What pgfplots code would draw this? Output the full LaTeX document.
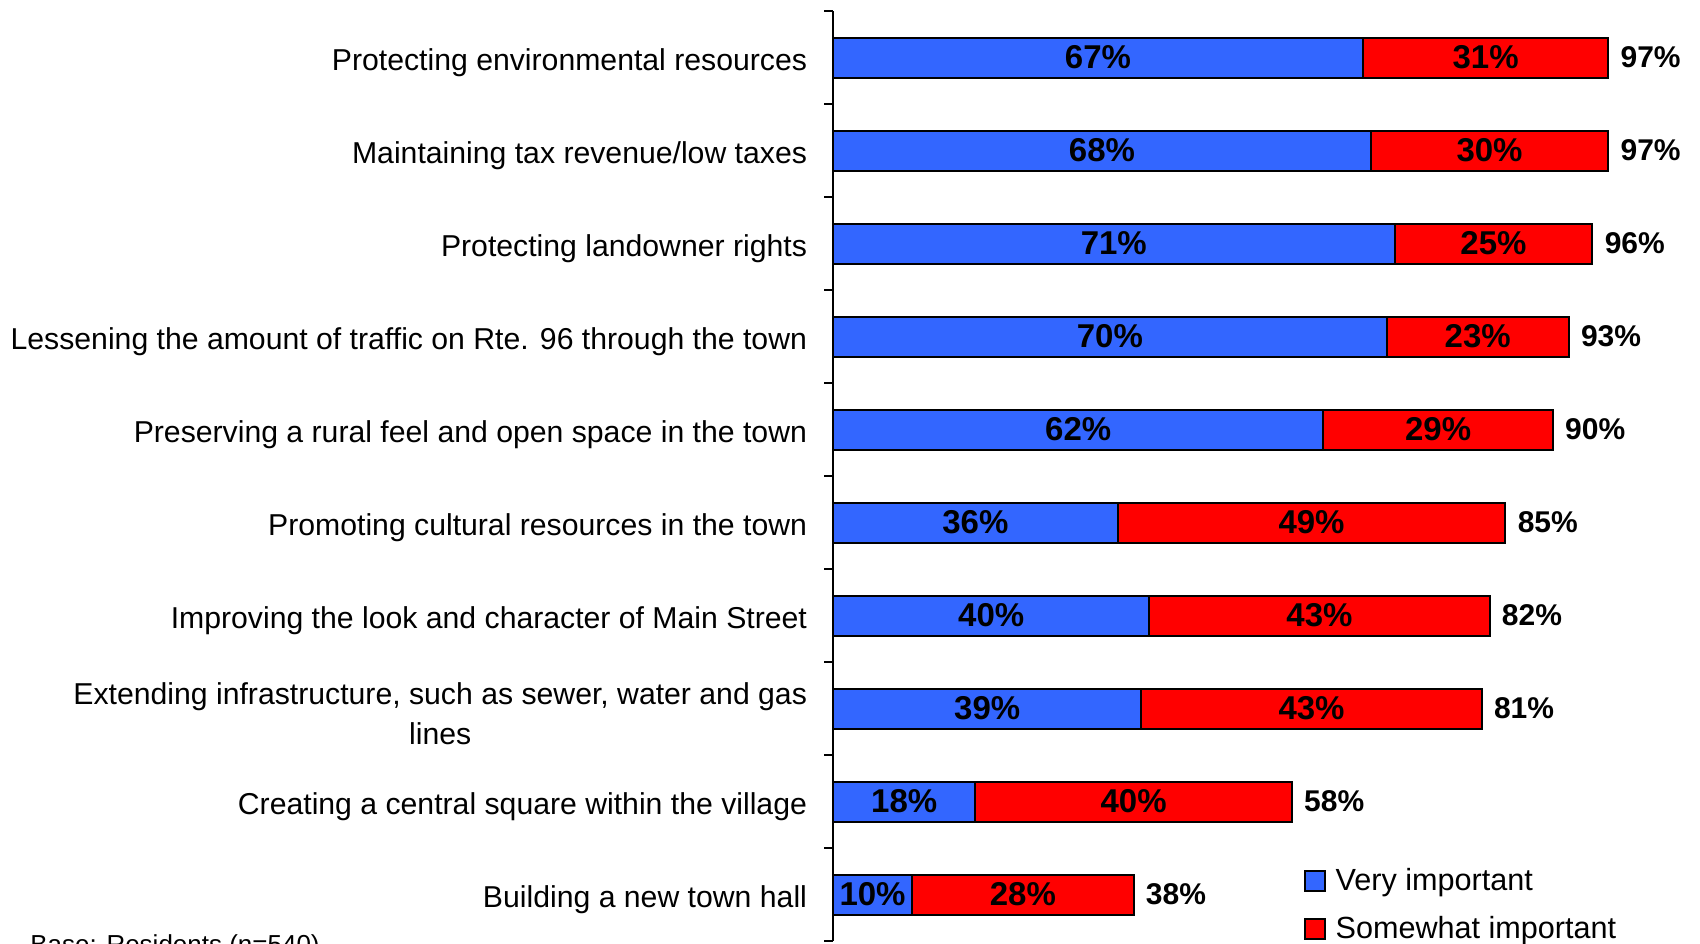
\documentclass[border=0pt]{standalone}
\usepackage{pgfplots}
\usepackage{pgfplotstable}
\pgfplotsset{compat=1.18}
\usepackage{fontspec}
\setmainfont{Liberation Sans}
\definecolor{vblue}{HTML}{3366FF}
\definecolor{sred}{HTML}{FF0000}
\pgfplotstableread{
idx very some tot
0 67 31 97
1 68 30 97
2 71 25 96
3 70 23 93
4 62 29 90
5 36 49 85
6 40 43 82
7 39 43 81
8 18 40 58
9 10 28 38
}\data
\begin{document}
\begin{tikzpicture}
\begin{axis}[
  at={(416.5pt,1pt)}, anchor=south west,
  scale only axis, width=395.5pt, height=465pt,
  xmin=0, xmax=100, ymin=-0.5, ymax=9.5, y dir=reverse,
  xbar stacked, bar width=20pt,
  axis x line=none, axis y line*=left,
  axis line style={line width=1pt},
  ytick={0,...,9},
  yticklabels={Protecting environmental resources,
    Maintaining tax revenue/low taxes,
    Protecting landowner rights,
    Lessening the amount of traffic on Rte. 96 through the town,
    Preserving a rural feel and open space in the town,
    Promoting cultural resources in the town,
    Improving the look and character of Main Street,
    {Extending infrastructure, such as sewer, water and gas\\lines},
    Creating a central square within the village,
    Building a new town hall},
  major tick length=0pt,
  minor ytick={-0.5,0.5,...,9.5},
  minor tick length=4.5pt,
  tick align=outside,
  minor tick style={line width=1pt, black},
  yticklabel style={font=\fontsize{15.1}{20}\selectfont, align=center, inner sep=0pt, xshift=-12.8pt, yshift=-2.5pt},
  /pgf/number format/assume math mode=true,
  clip=false,
  legend style={draw=none, fill=none, at={(axis cs:59.5,9.11)}, anchor=west,
    font=\fontsize{15.3}{18}\selectfont, inner sep=0pt, row sep=7.6pt,
    nodes={inner xsep=4.8pt}},
  legend cell align=left,
  legend image code/.code={\draw[#1, line width=1pt] (0pt,-5pt) rectangle (10pt,5pt);},
]
\addplot[fill=vblue, draw=black, line width=1pt,
  point meta=explicit,
  nodes near coords={\pgfmathprintnumber{\pgfplotspointmeta}\%},
  every node near coord/.append style={anchor=center, inner sep=0pt,
    font=\fontsize{16.5}{16.5}\selectfont\bfseries, text=black}]
  table[x=very, y=idx, meta=very]{\data};
\addplot[fill=sred, draw=black, line width=1pt,
  point meta=explicit,
  nodes near coords={\pgfmathprintnumber{\pgfplotspointmeta}\%},
  every node near coord/.append style={anchor=center, inner sep=0pt,
    font=\fontsize{16.5}{16.5}\selectfont\bfseries, text=black}]
  table[x=some, y=idx, meta=some]{\data};
\addplot[stack plots=false, draw=none, fill=none,
  point meta=explicit,
  visualization depends on={\thisrow{very}+\thisrow{some}\as\rawx},
  nodes near coords={\pgfmathprintnumber{\pgfplotspointmeta}\%},
  every node near coord/.append style={anchor=west, inner sep=0pt, xshift=6pt,
    shift={(axis direction cs:\rawx/2,0)},
    font=\fontsize{15}{15}\selectfont\bfseries, text=black}]
  table[x expr=\thisrow{very}+\thisrow{some}, y=idx, meta=tot]{\data};
\legend{Very important, Somewhat important}
\end{axis}
\node[anchor=base west, inner sep=0pt, font=\fontsize{13}{13}\selectfont] at (15pt,-5.3pt) {Base: Residents (n=540)};
\pgfresetboundingbox
\useasboundingbox (0,0) rectangle (850pt,471.5pt);
\end{tikzpicture}
\end{document}
